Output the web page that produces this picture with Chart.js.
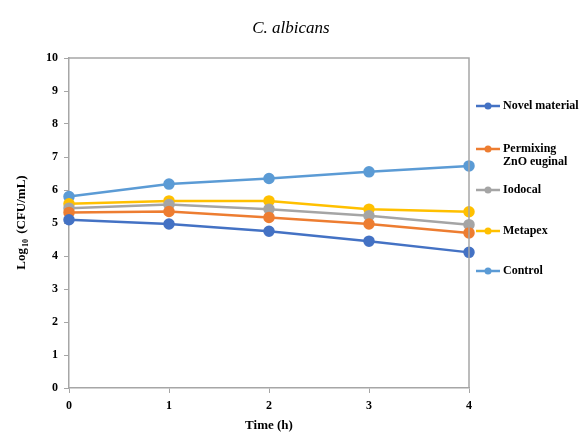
<!DOCTYPE html>
<html>
<head>
<meta charset="utf-8">
<script src="https://cdn.jsdelivr.net/npm/chart.js@4/dist/chart.umd.min.js"></script>
<style>
  html, body { margin: 0; padding: 0; background: #fff; }
</style>
</head>
<body>
<canvas id="c" width="583" height="437"></canvas>
<script>
  const times = ["0", "1", "2", "3", "4"];
  const yTicks = [0, 1, 2, 3, 4, 5, 6, 7, 8, 9, 10];

  const novelMaterial = [5.10, 4.97, 4.75, 4.45, 4.11];
  const permixing = [5.32, 5.35, 5.17, 4.97, 4.70];
  const iodocal = [5.45, 5.56, 5.42, 5.22, 4.95];
  const metapex = [5.58, 5.67, 5.67, 5.42, 5.34];
  const control = [5.80, 6.18, 6.35, 6.55, 6.73];

  const seriesNames = ["Novel material", ["Permixing", "ZnO euginal"], "Iodocal", "Metapex", "Control"];
  const colors = ["#4472C4", "#ED7D31", "#A5A5A5", "#FFC000", "#5B9BD5"];
  const legendY = [106, 149, 190, 231, 271];

  const serif = "'Liberation Serif', 'DejaVu Serif', serif";
  const axisGray = "#a6a6a6";

  const decorations = {
    id: "decorations",
    afterDraw(chart) {
      const ctx = chart.ctx, a = chart.chartArea;
      ctx.save();
      // top and right border of the plot box
      ctx.strokeStyle = axisGray;
      ctx.lineWidth = 1.5;
      ctx.beginPath();
      ctx.moveTo(a.left, a.top);
      ctx.lineTo(a.right, a.top);
      ctx.lineTo(a.right, a.bottom);
      ctx.stroke();

      // title
      ctx.fillStyle = "#000";
      ctx.font = "italic 17px " + serif;
      ctx.textAlign = "center";
      ctx.textBaseline = "middle";
      ctx.fillText("C. albicans", 291, 29);

      // y axis title with subscript
      ctx.translate(22, 223);
      ctx.rotate(-Math.PI / 2);
      const p1 = "Log", p2 = "10", p3 = " (CFU/mL)";
      ctx.font = "bold 13px " + serif;
      const w1 = ctx.measureText(p1).width, w3 = ctx.measureText(p3).width;
      ctx.font = "bold 8px " + serif;
      const w2 = ctx.measureText(p2).width + 2;
      let x = -(w1 + w2 + w3) / 2;
      ctx.textAlign = "left";
      ctx.font = "bold 13px " + serif;
      ctx.fillText(p1, x, 0);
      x += w1 + 1;
      ctx.font = "bold 8px " + serif;
      ctx.fillText(p2, x, 4);
      x += w2;
      ctx.font = "bold 13px " + serif;
      ctx.fillText(p3, x, 0);
      ctx.restore();

      // legend
      ctx.save();
      chart.data.datasets.forEach((ds, i) => {
        const y = legendY[i];
        ctx.strokeStyle = ds.borderColor;
        ctx.lineWidth = 2.5;
        ctx.beginPath();
        ctx.moveTo(476, y);
        ctx.lineTo(500, y);
        ctx.stroke();
        ctx.fillStyle = ds.borderColor;
        ctx.beginPath();
        ctx.arc(488, y, 3.5, 0, Math.PI * 2);
        ctx.fill();
        ctx.fillStyle = "#000";
        ctx.font = "bold 12px " + serif;
        ctx.textAlign = "left";
        ctx.textBaseline = "middle";
        const lines = Array.isArray(seriesNames[i]) ? seriesNames[i] : [seriesNames[i]];
        lines.forEach((t, k) => ctx.fillText(t, 503, y + k * 13));
      });
      ctx.restore();
    }
  };

  const seriesData = [novelMaterial, permixing, iodocal, metapex, control];

  new Chart(document.getElementById("c"), {
    type: "line",
    data: {
      labels: times,
      datasets: seriesData.map((d, i) => ({
        label: Array.isArray(seriesNames[i]) ? seriesNames[i].join(" ") : seriesNames[i],
        data: d,
        borderColor: colors[i],
        backgroundColor: colors[i],
        borderWidth: 2.5,
        pointRadius: 4.5,
        pointHoverRadius: 4.5,
        tension: 0
      }))
    },
    options: {
      responsive: false,
      animation: false,
      devicePixelRatio: 1,
      layout: { padding: { top: 58, right: 114, left: 0, bottom: 0 } },
      plugins: { legend: { display: false }, tooltip: { enabled: false }, title: { display: false } },
      scales: {
        x: {
          type: "category",
          offset: false,
          grid: { drawOnChartArea: false, drawTicks: true, tickLength: 5, color: axisGray },
          border: { color: axisGray, width: 1.5 },
          ticks: { color: "#000", font: { family: serif, weight: "bold", size: 12 }, padding: 6, maxRotation: 0 },
          title: { display: true, text: "Time (h)", color: "#000", font: { family: serif, weight: "bold", size: 13 }, padding: { top: 2 } },
          afterFit: s => { s.height = 49; }
        },
        y: {
          min: 0,
          max: 10,
          afterBuildTicks: s => { s.ticks = yTicks.map(v => ({ value: v })); },
          grid: { drawOnChartArea: false, drawTicks: true, tickLength: 5, color: axisGray },
          border: { color: axisGray, width: 1.5 },
          ticks: { color: "#000", font: { family: serif, weight: "bold", size: 12 }, padding: 6 },
          afterFit: s => { s.width = 69; }
        }
      }
    },
    plugins: [decorations]
  });
</script>
</body>
</html>
